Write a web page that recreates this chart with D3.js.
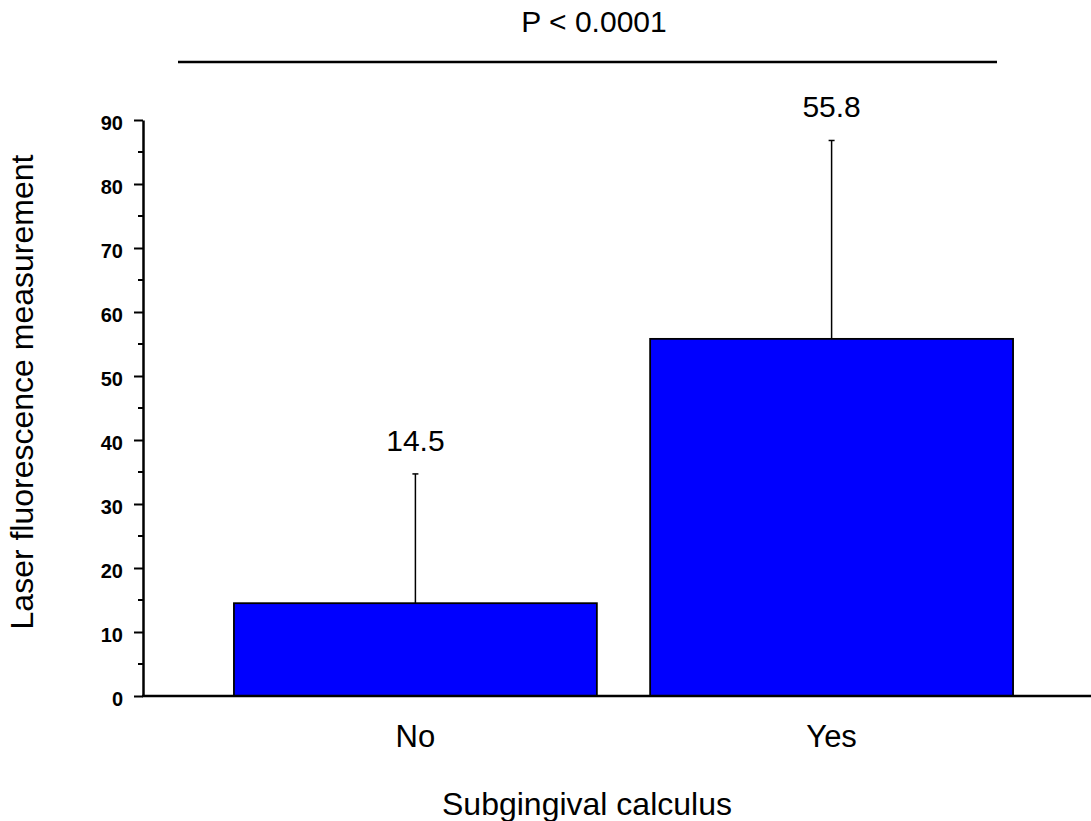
<!DOCTYPE html>
<html>
<head>
<meta charset="utf-8">
<script src="https://cdn.jsdelivr.net/npm/d3@7"></script>
<style>
  body { margin: 0; background: #fff; }
  text { font-family: Arial, "Liberation Sans", sans-serif; }
</style>
</head>
<body>
<script>
// Data
const categories = ["No", "Yes"];
const means = [14.5, 55.8];
const upperErr = [34.7, 86.8];
const valueLabels = ["14.5", "55.8"];
const yTicks = [0, 10, 20, 30, 40, 50, 60, 70, 80, 90];
const pText = "P < 0.0001";

const W = 1091, H = 821;
const left = 143, bottom = 696;

const svg = d3.select("body")
    .append("svg")
    .attr("width", W)
    .attr("height", H);

// Scales
const x = d3.scaleBand()
    .domain(categories)
    .range([left, 1104])
    .paddingInner(0.128)
    .paddingOuter(0.2185);

const y = d3.scaleLinear()
    .domain([0, 90])
    .range([bottom, 120]);

// Bars
svg.selectAll(".bar")
    .data(categories)
    .enter()
    .append("rect")
    .attr("class", "bar")
    .attr("x", d => x(d))
    .attr("y", (d, i) => y(means[i]))
    .attr("width", x.bandwidth())
    .attr("height", (d, i) => bottom - y(means[i]))
    .attr("fill", "#0000ff")
    .attr("stroke", "#000")
    .attr("stroke-width", 1.8);

// Error bars (upper only)
const eb = svg.selectAll(".err")
    .data(categories)
    .enter()
    .append("g")
    .attr("class", "err");

eb.append("line")
    .attr("x1", d => x(d) + x.bandwidth() / 2)
    .attr("x2", d => x(d) + x.bandwidth() / 2)
    .attr("y1", (d, i) => y(means[i]))
    .attr("y2", (d, i) => y(upperErr[i]))
    .attr("stroke", "#000")
    .attr("stroke-width", 1.5);

eb.append("line")
    .attr("x1", d => x(d) + x.bandwidth() / 2 - 3)
    .attr("x2", d => x(d) + x.bandwidth() / 2 + 3)
    .attr("y1", (d, i) => y(upperErr[i]))
    .attr("y2", (d, i) => y(upperErr[i]))
    .attr("stroke", "#000")
    .attr("stroke-width", 1.5);

// Value labels
svg.selectAll(".vlabel")
    .data(categories)
    .enter()
    .append("text")
    .attr("class", "vlabel")
    .attr("x", d => x(d) + x.bandwidth() / 2)
    .attr("y", (d, i) => y(upperErr[i]) - 23)
    .attr("text-anchor", "middle")
    .attr("font-size", 30)
    .text((d, i) => valueLabels[i]);

// Y axis
const yAxis = svg.append("g")
    .attr("transform", `translate(${left},0)`)
    .call(d3.axisLeft(y).tickValues(yTicks).tickSize(9).tickSizeOuter(0));
yAxis.select(".domain").attr("stroke-width", 2.5);
yAxis.selectAll(".tick line").attr("stroke-width", 2);
yAxis.selectAll(".tick text")
    .attr("x", -20)
    .attr("dy", "0.45em")
    .attr("font-size", 20)
    .attr("font-weight", "bold")
    .attr("font-family", "Arial, 'Liberation Sans', sans-serif")
    .attr("fill", "#000");

// minor ticks
const minor = d3.range(5, 90, 10);
svg.selectAll(".minor")
    .data(minor)
    .enter()
    .append("line")
    .attr("x1", left - 5)
    .attr("x2", left)
    .attr("y1", d => y(d))
    .attr("y2", d => y(d))
    .attr("stroke", "#000")
    .attr("stroke-width", 2);

// X axis line
svg.append("line")
    .attr("x1", left - 1)
    .attr("x2", W)
    .attr("y1", bottom)
    .attr("y2", bottom)
    .attr("stroke", "#000")
    .attr("stroke-width", 2.5);

// Category labels
svg.selectAll(".cat")
    .data(categories)
    .enter()
    .append("text")
    .attr("x", d => x(d) + x.bandwidth() / 2)
    .attr("y", 747)
    .attr("text-anchor", "middle")
    .attr("font-size", 31)
    .text(d => d);

// Axis titles
svg.append("text")
    .attr("x", 587)
    .attr("y", 815)
    .attr("text-anchor", "middle")
    .attr("font-size", 32)
    .text("Subgingival calculus");

svg.append("text")
    .attr("transform", "translate(33,392) rotate(-90)")
    .attr("text-anchor", "middle")
    .attr("font-size", 32)
    .text("Laser fluorescence measurement");

// Significance line and text
svg.append("line")
    .attr("x1", 178)
    .attr("x2", 997)
    .attr("y1", 62)
    .attr("y2", 62)
    .attr("stroke", "#000")
    .attr("stroke-width", 2.5);

svg.append("text")
    .attr("x", 594)
    .attr("y", 32)
    .attr("text-anchor", "middle")
    .attr("font-size", 30)
    .text(pText);
</script>
</body>
</html>
